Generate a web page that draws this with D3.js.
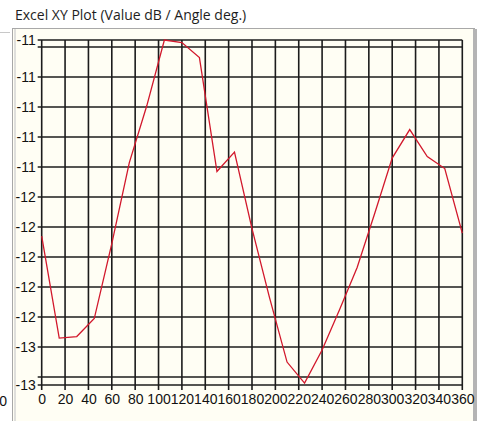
<!DOCTYPE html>
<html>
<head>
<meta charset="utf-8">
<script src="https://cdnjs.cloudflare.com/ajax/libs/d3/7.8.5/d3.min.js"></script>
<style>
  body { margin: 0; background: #fff; }
  svg { display: block; }
</style>
</head>
<body>
<svg id="chart" width="491" height="421"></svg>
<script>
// angle (deg) and value (dB)
var angles = [0, 15, 30, 45, 60, 75, 90, 105, 120, 135, 150, 165, 180,
              195, 210, 225, 240, 255, 270, 285, 300, 315, 330, 345, 360];
var values = [-11.86, -12.54, -12.53, -12.41, -11.91, -11.37, -10.99, -10.553, -10.57, -10.67, -11.43, -11.30, -11.81,
              -12.27, -12.70, -12.84, -12.62, -12.35, -12.07, -11.71, -11.34, -11.15, -11.33, -11.41, -11.84];

// axis settings
var xTicks = [0, 20, 40, 60, 80, 100, 120, 140, 160, 180, 200, 220, 240, 260, 280, 300, 320, 340, 360];
var yTop = -10.553, yBottom = -12.853;
var yGrid = [-10.6, -10.8, -11.0, -11.2, -11.4, -11.6, -11.8, -12.0, -12.2, -12.4, -12.6, -12.8];
// labelled ticks: the two ends plus the inner grid lines
var yLabelTicks = [-10.553, -10.8, -11.0, -11.2, -11.4, -11.6, -11.8, -12.0, -12.2, -12.4, -12.6, -12.853];

var svg = d3.select("#chart");

var plotLeft = 41.7, plotRight = 462.3, plotTop = 40, plotBottom = 385;

var x = d3.scaleLinear().domain([0, 360]).range([plotLeft, plotRight]);
var y = d3.scaleLinear().domain([yBottom, yTop]).range([plotBottom, plotTop]);

// title
svg.append("text")
  .attr("x", 15)
  .attr("y", 20)
  .attr("font-family", "Open Sans")
  .attr("font-size", 14)
  .attr("fill", "#1e1e1e")
  .text("Excel XY Plot (Value dB / Angle deg.)");

// panel
svg.append("rect")
  .attr("x", 12.5).attr("y", 28.5)
  .attr("width", 462).attr("height", 400)
  .attr("fill", "#fffef4")
  .attr("stroke", "#a8a8a8");
svg.append("line")
  .attr("x1", 15).attr("x2", 15).attr("y1", 29).attr("y2", 421)
  .attr("stroke", "#d4d4d4").attr("stroke-width", 1.5);
svg.append("rect")
  .attr("x", 473).attr("y", 29)
  .attr("width", 4).attr("height", 392)
  .attr("fill", "#b4b4b4");

// bit of the neighbouring control on the left
svg.append("line")
  .attr("x1", 0).attr("x2", 10).attr("y1", 32.5).attr("y2", 32.5)
  .attr("stroke", "#c8c8c8");
svg.append("text")
  .attr("x", 7).attr("y", 406)
  .attr("text-anchor", "end")
  .attr("font-family", "Liberation Sans")
  .attr("font-size", 14)
  .attr("fill", "#111")
  .text("0");

var grid = svg.append("g")
  .attr("stroke", "#1c1c1c")
  .attr("stroke-width", 1.6);

// horizontal grid, frame top and x axis line
grid.selectAll("line.h")
  .data([yTop].concat(yGrid, [yBottom]))
  .enter().append("line")
  .attr("class", "h")
  .attr("x1", plotLeft - 4)
  .attr("x2", plotRight)
  .attr("y1", function(d){ return y(d); })
  .attr("y2", function(d){ return y(d); });

// vertical grid, reaching down as tick marks
grid.selectAll("line.v")
  .data(xTicks)
  .enter().append("line")
  .attr("class", "v")
  .attr("x1", function(d){ return x(d); })
  .attr("x2", function(d){ return x(d); })
  .attr("y1", plotTop)
  .attr("y2", plotBottom + 5);

// the data line
var line = d3.line()
  .x(function(d, i){ return x(angles[i]); })
  .y(function(d){ return y(d); });

svg.append("path")
  .datum(values)
  .attr("d", line)
  .attr("fill", "none")
  .attr("stroke", "#d2182c")
  .attr("stroke-width", 1.3);

// y labels
var yAxis = d3.axisLeft(y)
  .tickValues(yLabelTicks)
  .tickSize(0)
  .tickPadding(6)
  .tickFormat(function(d){ return "-" + Math.round(-d); });

svg.append("g")
  .attr("transform", "translate(" + plotLeft + ",0)")
  .call(yAxis)
  .call(function(g){ g.select(".domain").remove(); })
  .selectAll("text")
  .attr("font-family", "Liberation Sans")
  .attr("font-size", 14)
  .attr("fill", "#111");

// x labels
var xAxis = d3.axisBottom(x)
  .tickValues(xTicks)
  .tickSize(0)
  .tickPadding(9)
  .tickFormat(d3.format("d"));

svg.append("g")
  .attr("transform", "translate(0," + plotBottom + ")")
  .call(xAxis)
  .call(function(g){ g.select(".domain").remove(); })
  .selectAll("text")
  .attr("font-family", "Liberation Sans")
  .attr("font-size", 14)
  .attr("fill", "#111");
</script>
</body>
</html>
